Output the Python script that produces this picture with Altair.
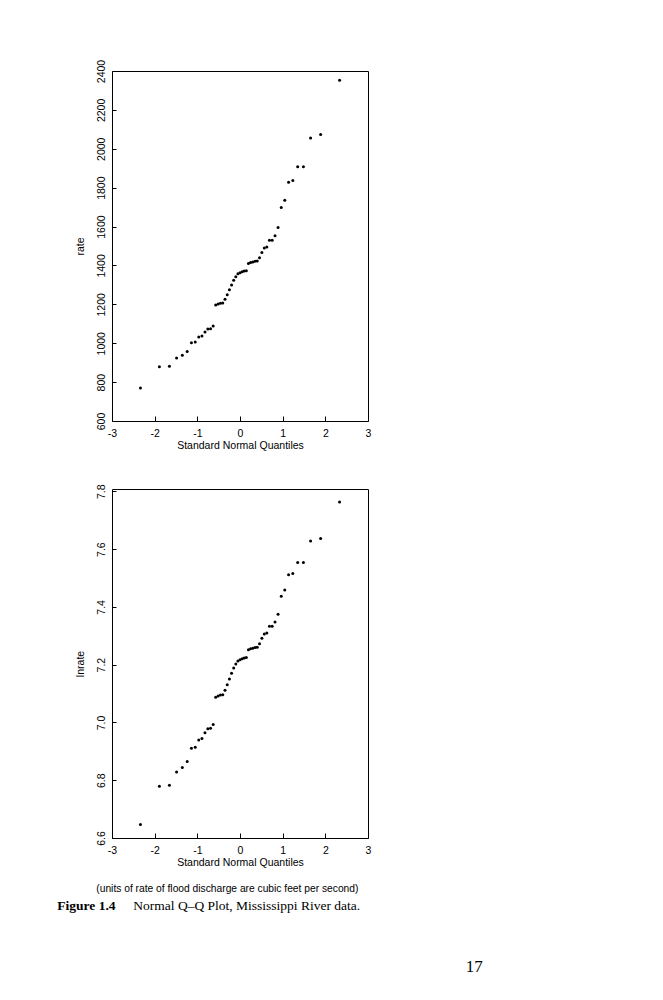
import altair as alt
import pandas as pd

# sorted annual flood discharge
RATE = [770, 879, 882, 924, 938, 958, 1003, 1006, 1032, 1037, 1058, 1073, 1075, 1089,
        1197, 1202, 1206, 1207, 1226, 1249, 1275, 1300, 1324, 1342, 1357, 1362, 1367,
        1371, 1373, 1410, 1415, 1418, 1421, 1423, 1440, 1467, 1490, 1495, 1530, 1530,
        1553, 1595, 1698, 1735, 1828, 1837, 1908, 1908, 2055, 2073, 2352]
X_TICKS = [-3, -2, -1, 0, 1, 2, 3]
RATE_TICKS = [600, 800, 1000, 1200, 1400, 1600, 1800, 2000, 2200, 2400]
LNRATE_TICKS = [6.6, 6.8, 7.0, 7.2, 7.4, 7.6, 7.8]
UNITS_NOTE = "(units of rate of flood discharge are cubic feet per second)"
FIGURE_LABEL = "Figure 1.4"
FIGURE_TEXT = "Normal Q\u2013Q Plot, Mississippi River data."
PAGE_NUMBER = "17"

W, H = 256, 349
SANS = "Liberation Sans"
SERIF = "Liberation Serif"


def x_axis() -> alt.Axis:
    return alt.Axis(
        values=X_TICKS, title="Standard Normal Quantiles", offset=-5, tickSize=5,
        domain=False, grid=False, labelPadding=7.5, labelBaseline="top",
        labelExpr="toString(datum.value)", labelFlush=False,
        titleY=24.5, titleBaseline="top",
    )


def y_axis(title: str, values: list, fmt: str) -> alt.Axis:
    return alt.Axis(
        values=values, title=title, format=fmt, offset=-4, tickSize=4,
        domain=False, grid=False, labelAngle=270, labelAlign="center",
        labelBaseline="alphabetic", labelPadding=7.4, labelFlush=False,
        titleAngle=270, titleBaseline="alphabetic", titleX=-32.5,
    )


frame = pd.DataFrame({"rate": RATE})
base = (
    alt.Chart(frame)
    .transform_window(rank="row_number()", sort=[alt.SortField("rate")])
    .transform_calculate(
        q=f"quantileNormal((datum.rank - 0.5) / {len(RATE)})",
        lnrate="log(datum.rate)",
    )
    .mark_circle(size=9, color="black", opacity=1)
)

xs = alt.X("q:Q", scale=alt.Scale(domain=[-3, 3], nice=False, zero=False), axis=x_axis())

top = base.encode(
    x=xs,
    y=alt.Y("rate:Q", scale=alt.Scale(domain=[600, 2400], nice=False, zero=False),
            axis=y_axis("rate", RATE_TICKS, "d")),
).properties(width=W, height=350)

points_low = base.encode(
    x=xs,
    y=alt.Y("lnrate:Q", scale=alt.Scale(domain=[6.6, 7.808], nice=False, zero=False),
            axis=y_axis("lnrate", LNRATE_TICKS, ".1f")),
)


def note(text, x, y, font, size, weight="normal", align="left"):
    return alt.Chart(pd.DataFrame({"t": [text]})).mark_text(
        font=font, fontSize=size, fontWeight=weight, align=align,
        baseline="middle", color="black",
    ).encode(text="t:N", x=alt.value(x), y=alt.value(y))


bottom = alt.layer(
    points_low,
    note(UNITS_NOTE, -15.7, 400.4, SANS, 10.25),
    note(FIGURE_LABEL, -54.7, 417, SERIF, 13.5, weight="bold"),
    note(FIGURE_TEXT, 21.3, 417, SERIF, 13.5),
    note(PAGE_NUMBER, 362.3, 477.7, SERIF, 17, align="center"),
).properties(width=W, height=H)

chart = (
    alt.vconcat(top, bottom, spacing=68, bounds="flush")
    .properties(padding={"left": 48, "top": 50, "right": 5, "bottom": 5}, background="white")
    .configure_view(stroke="black", strokeWidth=1)
    .configure_axis(
        labelFont=SANS, titleFont=SANS, labelFontSize=10.5, titleFontSize=10.5,
        labelColor="black", titleColor="black", tickColor="black",
        titleFontWeight="normal",
    )
)

chart.save("out.html", embed_options={"renderer": "svg", "actions": False})
